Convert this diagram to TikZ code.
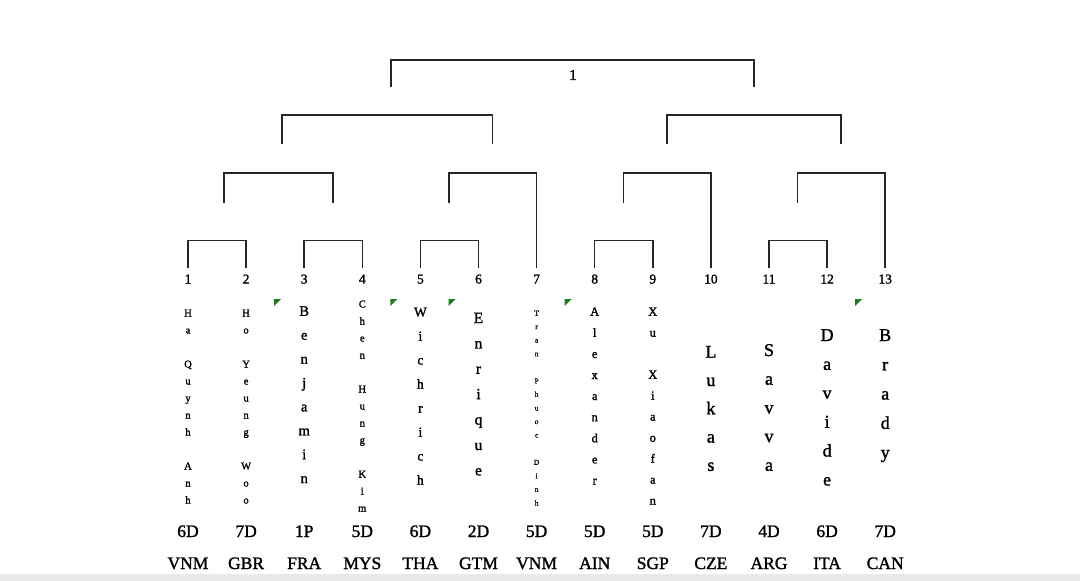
\documentclass[tikz,border=0pt]{standalone}
\usepackage{fontspec}
\setmainfont{Liberation Serif}[FakeBold=1.5]
\usetikzlibrary{calc}
\definecolor{linegray}{HTML}{262626}
\definecolor{flaggreen}{HTML}{1E7B1E}
\definecolor{bandgray}{HTML}{E9E9E9}
\tikzset{
  clade/.style={draw=linegray, line width=1.5pt},
  leafnum/.style={font=\fontsize{13.5}{16}\selectfont, inner xsep=0pt, inner ysep=6pt, anchor=base},
  info/.style={font=\fontsize{17.5}{20}\selectfont, inner sep=0pt, anchor=base},
  letter/.style={inner sep=0pt, anchor=base},
  flag/.style={fill=flaggreen},
}
\newcommand{\stackname}[5]{%
  \foreach \ch [count=\k from 0] in {#5}{ \node[letter, font=\fontsize{#4}{#4}\selectfont] (s#1-\k) at ({188+58.1*(#1-1)},{#2+#3*\k}) {\ch}; }}

\begin{document}
\begin{tikzpicture}[x=1pt, y=-1pt]
  \useasboundingbox (0,0) rectangle (1080,581);
  \fill[bandgray] (0,574) rectangle (1080,581);
  \foreach \i in {1,...,13}{ \node[leafnum] (n\i) at ({188+58.1*(\i-1)},283.5) {\i}; }
  \foreach \g/\c [count=\i] in {6D/VNM,7D/GBR,1P/FRA,5D/MYS,6D/THA,2D/GTM,5D/VNM,5D/AIN,5D/SGP,7D/CZE,4D/ARG,6D/ITA,7D/CAN}{
    \node[info] (g\i) at ({188+58.1*(\i-1)},537) {\g};
    \node[info] (c\i) at ({188+58.1*(\i-1)},569) {\c};
  }
  \foreach \i in {3,5,6,8,13}{ \fill[flag] ({188+58.1*(\i-1)-30},299) -- ++(7,0) -- ++(-7,7) -- cycle; }

  \stackname{1}{316.5}{17}{10.5}{H,a,{},Q,u,y,n,h,{},A,n,h}
  \stackname{2}{316.5}{17}{10.5}{H,o,{},Y,e,u,n,g,{},W,o,o}
  \stackname{3}{315.8}{23.9}{14.5}{B,e,n,j,a,m,i,n}
  \stackname{4}{307.5}{17}{10.5}{C,h,e,n,{},H,u,n,g,{},K,i,m}
  \stackname{5}{316.5}{24}{13.5}{W,i,c,h,r,i,c,h}
  \stackname{6}{323}{25.4}{15.5}{E,n,r,i,q,u,e}
  \stackname{7}{315.5}{13.57}{7.5}{T,r,a,n,{},P,h,u,o,c,{},D,i,n,h}
  \stackname{8}{315.7}{21.1}{12.5}{A,l,e,x,a,n,d,e,r}
  \stackname{9}{315.7}{21}{12.5}{X,u,{},X,i,a,o,f,a,n}
  \stackname{10}{357.7}{28.3}{18}{L,u,k,a,s}
  \stackname{11}{356}{28.7}{18}{S,a,v,v,a}
  \stackname{12}{341}{28.9}{18}{D,a,v,i,d,e}
  \stackname{13}{341}{29.3}{18}{B,r,a,d,y}

  \foreach \a/\b in {1/2,3/4,5/6,8/9,11/12}{ \draw[clade] (n\a.north) -- ++(0,-28) -| (n\b.north); }
  \coordinate (k1) at (224,203);
  \coordinate (k2) at (333,203);
  \coordinate (k3) at (449,203);
  \coordinate (k4) at (623.5,203);
  \coordinate (k5) at (797.5,203);
  \draw[clade] (k1) -- ++(0,-30) -| (k2);
  \draw[clade] (k3) -- ++(0,-30) -| (n7.north);
  \draw[clade] (k4) -- ++(0,-30) -| (n10.north);
  \draw[clade] (k5) -- ++(0,-30) -| (n13.north);
  \coordinate (h1) at (282,144);
  \coordinate (h2) at (492.5,144);
  \coordinate (h3) at (667,144);
  \coordinate (h4) at (841,144);
  \draw[clade] (h1) -- ++(0,-29) -| (h2);
  \draw[clade] (h3) -- ++(0,-29) -| (h4);
  \coordinate (r1) at (391,87);
  \coordinate (r2) at (754,87);
  \draw[clade] (r1) -- ++(0,-27) -| (r2);
  \node[font=\fontsize{15}{17}\selectfont, inner sep=0pt] (root) at (573,75) {1};
\end{tikzpicture}
\end{document}
